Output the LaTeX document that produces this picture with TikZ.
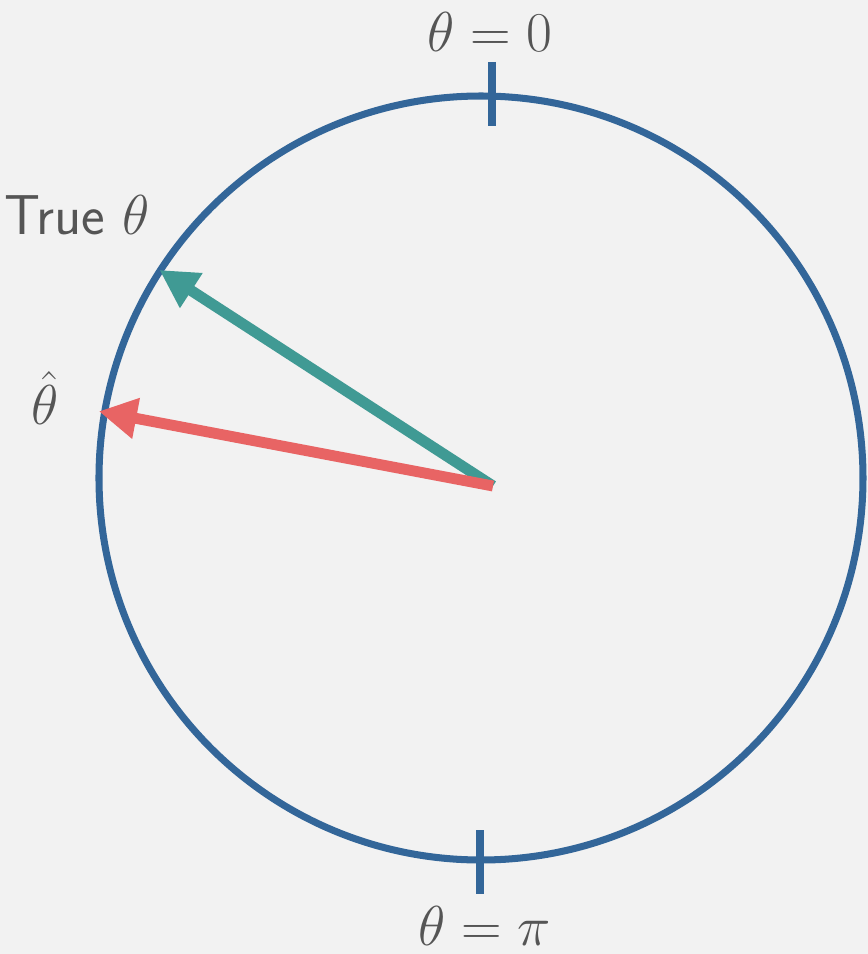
\RequirePackage{fix-cm}
\documentclass[tikz,border=0pt]{standalone}
\usepackage{amsmath,amssymb}
\usepackage{tikz}
\usetikzlibrary{arrows.meta, positioning, calc}
\definecolor{bggray}{RGB}{242, 242, 242}
\definecolor{ringblue}{RGB}{51, 102, 153}
\definecolor{truegreen}{RGB}{64, 154, 148}
\definecolor{estred}{RGB}{232, 100, 100}
\definecolor{labelgray}{RGB}{85, 85, 85}
\tikzset{
  ring/.style      = {draw=ringblue, line width=4pt},
  ringtick/.style  = {draw=ringblue, line width=4pt},
  vecarrow/.style  = {-{Triangle[length=0.76cm, width=0.78cm]}, line width=6.2pt},
  lbl/.style       = {text=labelgray, font=\fontsize{32}{40}\selectfont, inner sep=0pt},
}

\begin{document}
\begin{tikzpicture}[x=0.02cm, y=0.02cm]
  \fill[bggray] (-481,-476) rectangle (387,478);
  \useasboundingbox (-481,-476) rectangle (387,478);

  % the circle of angles
  \coordinate (o) at (0,0);
  \draw[ring] (o) circle (382);

  \coordinate (top1) at (11,416);
  \coordinate (top2) at (11,352);
  \coordinate (bot1) at (-1,-352);
  \coordinate (bot2) at (-1,-416);
  \draw[ringtick] (top1) -- (top2);
  \draw[ringtick] (bot1) -- (bot2);

  \node[lbl] (zero) at (9,446) {$\theta = 0$};
  \node[lbl] (pi)   at (4,-448) {$\theta = \pi$};

  % true and estimated angle
  \coordinate (src)  at (12,-8);
  \coordinate (tru)  at (147.1:383);
  \coordinate (est)  at (170.1:388);
  \draw[vecarrow, truegreen] (src) -- (tru);
  \draw[vecarrow, estred] (src) -- (est);

  \node[lbl] (truelbl) at (-404,263) {\sffamily True $\theta$};
  \node[lbl] (estlbl)  at (-436,80)  {$\hat{\theta}$};
\end{tikzpicture}
\end{document}
